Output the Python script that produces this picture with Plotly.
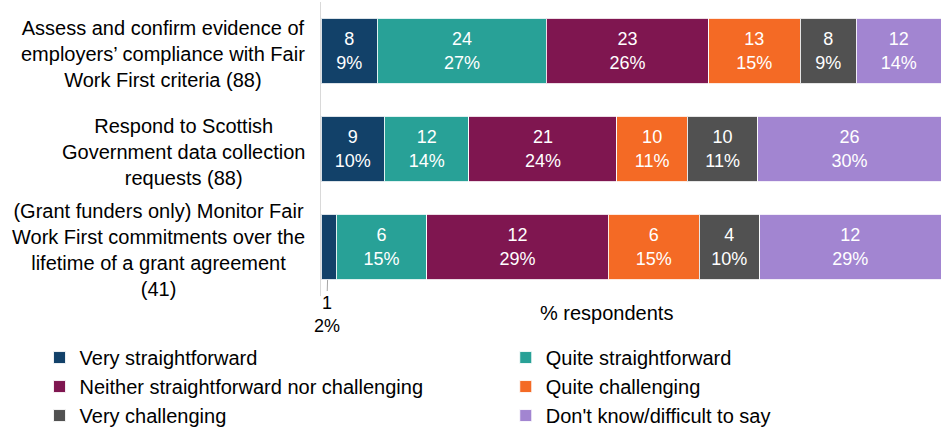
import plotly.graph_objects as go

categories = [
    "Assess and confirm evidence of<br>employers\u2019 compliance with Fair<br>Work First criteria (88)",
    "Respond to Scottish<br>Government data collection<br>requests (88)",
    "(Grant funders only) Monitor Fair<br>Work First commitments over the<br>lifetime of a grant agreement<br>(41)",
]
series = [
    "Very straightforward",
    "Quite straightforward",
    "Neither straightforward nor challenging",
    "Quite challenging",
    "Very challenging",
    "Don't know/difficult to say",
]
colors = ["#124169", "#28A197", "#7F1650", "#F46A25", "#515151", "#A285D1"]

# counts per category, one list per answer
counts = {
    "Very straightforward": [8, 9, 1],
    "Quite straightforward": [24, 12, 6],
    "Neither straightforward nor challenging": [23, 21, 12],
    "Quite challenging": [13, 10, 6],
    "Very challenging": [8, 10, 4],
    "Don't know/difficult to say": [12, 26, 12],
}
# percentage labels as printed on the chart
pct_labels = {
    "Very straightforward": ["9%", "10%", "2%"],
    "Quite straightforward": ["27%", "14%", "15%"],
    "Neither straightforward nor challenging": ["26%", "24%", "29%"],
    "Quite challenging": ["15%", "11%", "15%"],
    "Very challenging": ["9%", "11%", "10%"],
    "Don't know/difficult to say": ["14%", "30%", "29%"],
}
totals = [88, 88, 41]

FONT = "Arial, Liberation Sans, sans-serif"

fig = go.Figure()
for i, (name, col) in enumerate(zip(series, colors)):
    x = [c / t * 100 for c, t in zip(counts[name], totals)]
    txt = []
    for c, p, v in zip(counts[name], pct_labels[name], x):
        # too narrow segments get an outside label instead
        txt.append(f"{c}<br>{p}" if v > 4 else "")
    fig.add_trace(go.Bar(
        y=categories, x=x, name=name, orientation="h",
        marker=dict(color=col, line=dict(color="rgba(255,255,255,0.85)", width=1)),
        text=txt, textposition="inside", insidetextanchor="middle",
        textangle=0, constraintext="none",
        textfont=dict(color="white", size=18, family=FONT),
        hoverinfo="skip",
        legend="legend" if i % 2 == 0 else "legend2",
    ))

# category labels: centred lines, right-aligned block
for cat in categories:
    fig.add_annotation(
        x=0, xref="paper", y=cat, yref="y", text=cat, showarrow=False,
        xanchor="right", align="center", xshift=-14, yshift=-3,
        font=dict(size=20, color="black", family=FONT),
    )

# leader label for the tiny segment
first = series[0]
for i, (c, p, t) in enumerate(zip(counts[first], pct_labels[first], totals)):
    v = c / t * 100
    if v <= 4:
        fig.add_annotation(
            x=v / 2, y=categories[i], text=f"{c}<br>{p}",
            showarrow=True, arrowhead=0, arrowwidth=1, arrowcolor="#A6A6A6",
            ax=-2, ay=67, standoff=33,
            font=dict(size=18, color="black", family=FONT),
        )

fig.add_annotation(
    x=0.461, xref="paper", y=0, yref="paper", yshift=-17, yanchor="middle",
    text="% respondents", showarrow=False,
    font=dict(size=20, color="black", family=FONT),
)

legend_style = dict(
    orientation="v", yanchor="top", y=-0.143, traceorder="normal",
    font=dict(size=20, color="black", family=FONT),
    bgcolor="rgba(0,0,0,0)", itemclick=False, itemdoubleclick=False,
)

fig.update_layout(
    barmode="stack", bargap=0.33,
    width=947, height=437,
    margin=dict(l=321, r=6, t=2, b=139),
    paper_bgcolor="white", plot_bgcolor="white",
    font=dict(family=FONT, size=20, color="black"),
    showlegend=True,
    legend=dict(x=-0.454, xanchor="left", **legend_style),
    legend2=dict(x=0.298, xanchor="left", **legend_style),
)
fig.update_xaxes(range=[0, 100], showticklabels=False, showgrid=False,
                 zeroline=False, showline=False, ticks="")
fig.update_yaxes(autorange="reversed", showticklabels=False, showgrid=False,
                 showline=True, linecolor="#D9D9D9", linewidth=1, ticks="")

# drop the default page margin so the figure sits at the window's corner
fig.write_html("out.html", config={"displayModeBar": False},
               post_script="document.body.style.margin = '0';")
